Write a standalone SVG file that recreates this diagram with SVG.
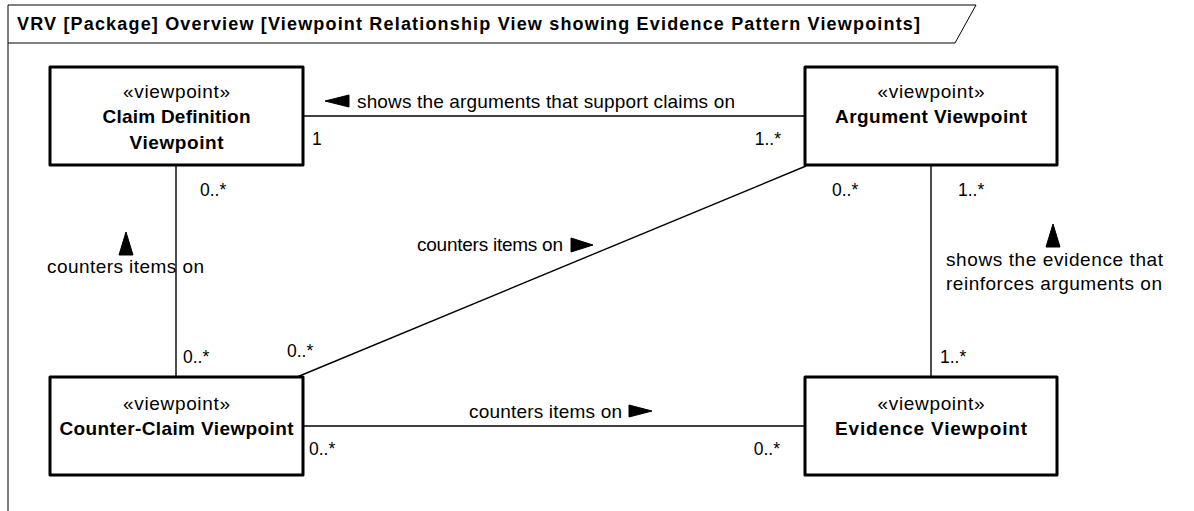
<svg xmlns="http://www.w3.org/2000/svg" width="1194" height="511" viewBox="0 0 1194 511">
  <style>
    text { font-family: "Liberation Sans", Arial, sans-serif; fill: #000; }
    .title { font-size: 18px; font-weight: bold; }
    .stereo { font-size: 19px; text-anchor: middle; }
    .name { font-size: 19px; font-weight: bold; text-anchor: middle; }
    .lbl { font-size: 19px; }
    .mult { font-size: 17.5px; }
    .box { fill: #fff; stroke: #000; stroke-width: 3; stroke-linejoin: round; }
    .conn { fill: none; stroke: #000; stroke-width: 1.4; }
    .frame { fill: none; stroke: #000; stroke-width: 1; }
    .dir { fill: #000; stroke: #000; stroke-width: 1; stroke-linejoin: round; }
  </style>

  <!-- package frame with title tab -->
  <g id="frame">
    <polyline class="frame" points="8,511 8,5 976,5"/>
    <polyline class="frame" points="8,43 955,43 976,5"/>
    <text class="title" x="17" y="30" textLength="903" lengthAdjust="spacing">VRV [Package] Overview [Viewpoint Relationship View showing Evidence Pattern Viewpoints]</text>
  </g>

  <!-- associations between viewpoints -->
  <g id="connectors">
    <line class="conn" x1="303" y1="116" x2="805" y2="116"/>
    <line class="conn" x1="176" y1="165" x2="176" y2="377"/>
    <line class="conn" x1="931" y1="165" x2="931" y2="377"/>
    <line class="conn" x1="297" y1="377" x2="806" y2="166"/>
    <line class="conn" x1="303" y1="426" x2="805" y2="426"/>

    <!-- Claim Definition / Argument -->
    <polygon class="dir" points="325,101 349,95 349,107"/>
    <text class="lbl" x="357" y="108" textLength="378" lengthAdjust="spacing">shows the arguments that support claims on</text>
    <text class="mult" x="312" y="145">1</text>
    <text class="mult" x="781" y="145" text-anchor="end">1..*</text>

    <!-- Claim Definition / Counter-Claim -->
    <polygon class="dir" points="126,232 119,255 133,255"/>
    <text class="lbl" x="47" y="273" textLength="157" lengthAdjust="spacing">counters items on</text>
    <text class="mult" x="200" y="196">0..*</text>
    <text class="mult" x="183" y="363">0..*</text>

    <!-- Counter-Claim / Argument -->
    <polygon class="dir" points="571,238 571,252 593,245"/>
    <text class="lbl" x="417" y="251" textLength="146" lengthAdjust="spacing">counters items on</text>
    <text class="mult" x="832" y="196">0..*</text>
    <text class="mult" x="287" y="357">0..*</text>

    <!-- Argument / Evidence -->
    <polygon class="dir" points="1053,224 1046,247 1060,247"/>
    <text class="lbl" x="946" y="266" textLength="217" lengthAdjust="spacing">shows the evidence that</text>
    <text class="lbl" x="946" y="290" textLength="216" lengthAdjust="spacing">reinforces arguments on</text>
    <text class="mult" x="958" y="196">1..*</text>
    <text class="mult" x="940" y="363">1..*</text>

    <!-- Counter-Claim / Evidence -->
    <polygon class="dir" points="629,405 629,417 652,411"/>
    <text class="lbl" x="469" y="418" textLength="153" lengthAdjust="spacing">counters items on</text>
    <text class="mult" x="309" y="455">0..*</text>
    <text class="mult" x="780" y="455" text-anchor="end">0..*</text>
  </g>

  <g id="claim-definition">
    <rect class="box" x="50" y="67" width="253" height="98"/>
    <text class="stereo" x="176.5" y="98" textLength="107" lengthAdjust="spacing">«viewpoint»</text>
    <text class="name" x="176.5" y="123" textLength="148" lengthAdjust="spacing">Claim Definition</text>
    <text class="name" x="176.5" y="149" textLength="94" lengthAdjust="spacing">Viewpoint</text>
  </g>

  <g id="argument">
    <rect class="box" x="805" y="67" width="252" height="98"/>
    <text class="stereo" x="931" y="98" textLength="107" lengthAdjust="spacing">«viewpoint»</text>
    <text class="name" x="931" y="123" textLength="192" lengthAdjust="spacing">Argument Viewpoint</text>
  </g>

  <g id="counter-claim">
    <rect class="box" x="50" y="377" width="253" height="98"/>
    <text class="stereo" x="176.5" y="410" textLength="107" lengthAdjust="spacing">«viewpoint»</text>
    <text class="name" x="176.5" y="435" textLength="234" lengthAdjust="spacing">Counter-Claim Viewpoint</text>
  </g>

  <g id="evidence">
    <rect class="box" x="805" y="377" width="252" height="98"/>
    <text class="stereo" x="931" y="410" textLength="107" lengthAdjust="spacing">«viewpoint»</text>
    <text class="name" x="931" y="435" textLength="192" lengthAdjust="spacing">Evidence Viewpoint</text>
  </g>
</svg>
